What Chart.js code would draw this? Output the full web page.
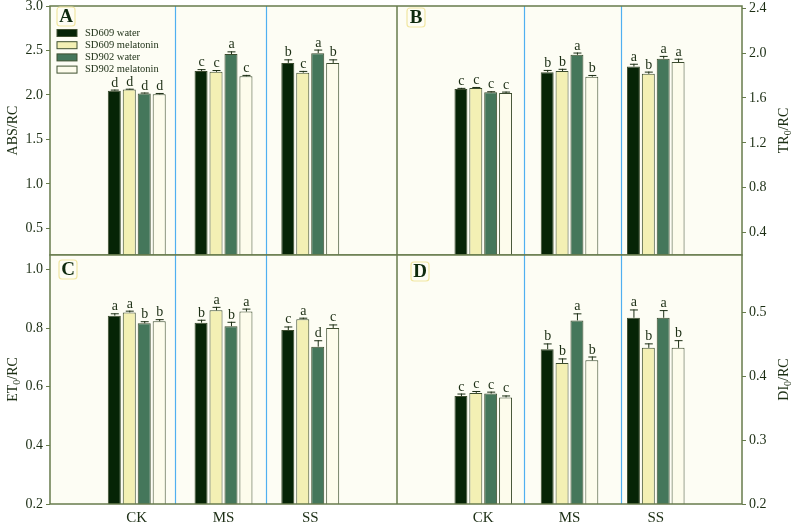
<!DOCTYPE html>
<html lang="en">
<head>
  <meta charset="UTF-8" />
  <title>ABS/RC, TR0/RC, ET0/RC, DI0/RC</title>
  <script src="https://cdn.jsdelivr.net/npm/chart.js"></script>
  <style>
    * { margin: 0; padding: 0; box-sizing: border-box; }
    body { width: 794px; height: 525px; background: #fff; position: relative; overflow: hidden; }
    .panel { position: absolute; }
  </style>
</head>
<body>
  <div class="panel" style="left:0;top:0;width:397px;height:260px"><canvas id="chartA"></canvas></div>
  <div class="panel" style="left:397px;top:0;width:397px;height:260px"><canvas id="chartB"></canvas></div>
  <div class="panel" style="left:0;top:250px;width:397px;height:275px"><canvas id="chartC"></canvas></div>
  <div class="panel" style="left:397px;top:250px;width:397px;height:275px"><canvas id="chartD"></canvas></div>

  <script>
    // categories padded with empty slots so the axis runs from one gap to the other
    const categories = ['', 'CK', 'MS', 'SS', ''];
    const seriesNames = ['SD609 water', 'SD609 melatonin', 'SD902 water', 'SD902 melatonin'];
    const seriesColors = ['#062406', '#f3f0b4', '#45775b', '#fdfcec'];

    // values per series: [CK, MS, SS]
    const absMeans = [[2.048, 2.27, 2.36], [2.06, 2.26, 2.25], [2.015, 2.46, 2.47], [2.007, 2.21, 2.36]];
    const absErrors = [[0.012, 0.02, 0.04], [0.01, 0.02, 0.02], [0.012, 0.03, 0.04], [0.015, 0.015, 0.04]];
    const absLetters = [['d', 'c', 'b'], ['d', 'c', 'c'], ['d', 'a', 'a'], ['d', 'c', 'b']];

    const trMeans = [[1.68, 1.83, 1.88], [1.69, 1.84, 1.815], [1.65, 1.985, 1.95], [1.645, 1.79, 1.92]];
    const trErrors = [[0.01, 0.02, 0.025], [0.008, 0.02, 0.02], [0.01, 0.02, 0.025], [0.012, 0.015, 0.03]];
    const trLetters = [['c', 'b', 'a'], ['c', 'b', 'b'], ['c', 'a', 'a'], ['c', 'b', 'a']];

    const etMeans = [[0.843, 0.819, 0.794], [0.854, 0.861, 0.831], [0.817, 0.807, 0.737], [0.824, 0.857, 0.801]];
    const etErrors = [[0.008, 0.01, 0.012], [0.006, 0.012, 0.005], [0.007, 0.015, 0.022], [0.007, 0.01, 0.012]];
    const etLetters = [['a', 'b', 'c'], ['a', 'a', 'a'], ['b', 'b', 'd'], ['b', 'a', 'c']];

    const diMeans = [[0.369, 0.4425, 0.4917], [0.374, 0.421, 0.4446], [0.373, 0.4876, 0.4917], [0.367, 0.425, 0.4446]];
    const diErrors = [[0.004, 0.009, 0.013], [0.003, 0.007, 0.007], [0.003, 0.011, 0.012], [0.003, 0.006, 0.012]];
    const diLetters = [['c', 'b', 'a'], ['c', 'b', 'b'], ['c', 'a', 'a'], ['c', 'b', 'b']];

    const ticksA = [0.5, 1.0, 1.5, 2.0, 2.5, 3.0];
    const ticksB = [0.4, 0.8, 1.2, 1.6, 2.0, 2.4];
    const ticksC = [0.2, 0.4, 0.6, 0.8, 1.0];
    const ticksD = [0.2, 0.3, 0.4, 0.5];

    // blue separators, in category-index units
    const dividersLeft = [1.445, 2.49];
    const dividersRight = [1.475, 2.595];

    const SERIF = '"Liberation Serif", "DejaVu Serif", serif';
    const OLIVE = '#677b4c';
    const INK = '#1c2e14';

    const panelPlugin = {
      id: 'panelPlugin',
      beforeDatasetsDraw(chart, args, opts) {
        const a = chart.chartArea, ctx = chart.ctx, xs = chart.scales.x;
        ctx.save();
        ctx.fillStyle = '#fdfdf4';
        ctx.fillRect(a.left, a.top, a.right - a.left, a.bottom - a.top);
        ctx.strokeStyle = '#4fb0f0';
        ctx.lineWidth = 1.2;
        opts.dividers.forEach(d => {
          const x = Math.round(xs.getPixelForValue(d)) + 0.5;
          ctx.beginPath();
          ctx.moveTo(x, a.top);
          ctx.lineTo(x, a.bottom);
          ctx.stroke();
        });
        ctx.restore();
      },
      afterDatasetsDraw(chart, args, opts) {
        const a = chart.chartArea, ctx = chart.ctx, ys = chart.scales.y;
        ctx.save();
        // error bars and letters
        chart.data.datasets.forEach((ds, i) => {
          const meta = chart.getDatasetMeta(i);
          meta.data.forEach((bar, j) => {
            const v = ds.data[j];
            if (v === null) return;
            const err = opts.errors[i][j - 1];
            const yTop = ys.getPixelForValue(v + err);
            ctx.strokeStyle = INK;
            ctx.lineWidth = 1;
            ctx.beginPath();
            ctx.moveTo(bar.x + 0.5, bar.y);
            ctx.lineTo(bar.x + 0.5, yTop);
            ctx.moveTo(bar.x - 3.5, yTop + 0.5);
            ctx.lineTo(bar.x + 4.5, yTop + 0.5);
            ctx.stroke();
            ctx.fillStyle = INK;
            ctx.font = '14px ' + SERIF;
            ctx.textAlign = 'center';
            ctx.textBaseline = 'alphabetic';
            ctx.fillText(opts.letters[i][j - 1], bar.x + 0.5, yTop - 3);
          });
        });
        // frame
        ctx.strokeStyle = OLIVE;
        ctx.lineWidth = 1.5;
        ctx.strokeRect(a.left, a.top, a.right - a.left, a.bottom - a.top);
        // panel letter
        const lx = a.left + opts.labelDx, ly = a.top + opts.labelDy;
        ctx.strokeStyle = '#f1e7a2';
        ctx.lineWidth = 1.2;
        ctx.beginPath();
        ctx.roundRect(lx, ly, 18, 19, 3);
        ctx.stroke();
        ctx.fillStyle = '#0e2a0e';
        ctx.font = 'bold 19px ' + SERIF;
        ctx.textAlign = 'center';
        ctx.textBaseline = 'middle';
        ctx.fillText(opts.label, lx + 9, ly + 10.5);
        // axis title with subscript
        ctx.translate(opts.titleX - chart.canvas.offsetParent.offsetLeft, (a.top + a.bottom) / 2);
        ctx.rotate(-Math.PI / 2);
        ctx.fillStyle = INK;
        ctx.textAlign = 'left';
        ctx.textBaseline = 'middle';
        let w = 0;
        opts.title.forEach(p => {
          ctx.font = (p.sub ? '10px ' : '14px ') + SERIF;
          w += ctx.measureText(p.t).width;
        });
        let x = -w / 2;
        opts.title.forEach(p => {
          ctx.font = (p.sub ? '10px ' : '14px ') + SERIF;
          ctx.fillText(p.t, x, p.sub ? 4 : 0);
          x += ctx.measureText(p.t).width;
        });
        ctx.restore();
        // legend in panel A
        if (opts.legend) {
          ctx.save();
          ctx.font = '10.5px ' + SERIF;
          ctx.textBaseline = 'middle';
          ctx.textAlign = 'left';
          seriesNames.forEach((name, i) => {
            const y = a.top + 27 + i * 12.2;
            ctx.fillStyle = seriesColors[i];
            ctx.fillRect(a.left + 7, y - 3.5, 20, 7);
            ctx.strokeStyle = '#3f5030';
            ctx.lineWidth = 1;
            ctx.strokeRect(a.left + 7, y - 3.5, 20, 7);
            ctx.fillStyle = INK;
            ctx.fillText(name, a.left + 35, y);
          });
          ctx.restore();
        }
      }
    };

    function makeChart(id, cfg) {
      const datasets = seriesNames.map((name, i) => ({
        label: name,
        data: [null, ...cfg.means[i], null],
        backgroundColor: seriesColors[i],
        borderColor: '#3c4c2e',
        borderWidth: 1,
        borderSkipped: 'bottom',
        categoryPercentage: 0.69,
        barPercentage: 0.87
      }));
      return new Chart(document.getElementById(id), {
        type: 'bar',
        data: { labels: categories, datasets },
        options: {
          responsive: true,
          maintainAspectRatio: false,
          animation: false,
          layout: { padding: { top: cfg.padTop, left: 0, right: 0, bottom: 0 } },
          plugins: {
            legend: { display: false },
            tooltip: { enabled: false },
            panelPlugin: {
              dividers: cfg.dividers,
              errors: cfg.errors,
              letters: cfg.letters,
              label: cfg.label,
              labelDx: cfg.labelDx,
              labelDy: cfg.labelDy,
              title: cfg.title,
              titleX: cfg.titleX,
              legend: !!cfg.legend
            }
          },
          scales: {
            x: {
              type: 'category',
              offset: false,
              grid: { display: false, drawTicks: false },
              border: { display: false },
              ticks: {
                display: cfg.showX,
                autoSkip: false,
                maxRotation: 0,
                padding: 5,
                color: INK,
                font: { family: SERIF, size: 15 }
              },
              afterFit(scale) {
                scale.height = cfg.xHeight;
                scale.paddingLeft = 0;
                scale.paddingRight = 0;
              }
            },
            y: {
              position: cfg.yPos,
              min: cfg.yMin,
              max: cfg.yMax,
              grid: { display: true, drawOnChartArea: false, drawTicks: true, tickLength: 4, color: OLIVE },
              border: { display: false },
              ticks: {
                padding: 3,
                color: INK,
                font: { family: SERIF, size: 14 },
                callback: v => Number(v).toFixed(1)
              },
              afterBuildTicks(scale) { scale.ticks = cfg.ticks.map(v => ({ value: v })); },
              afterFit(scale) {
                scale.width = cfg.yWidth;
                scale.paddingTop = 0;
                scale.paddingBottom = 0;
              }
            }
          }
        },
        plugins: [panelPlugin]
      });
    }

    makeChart('chartA', {
      means: absMeans, errors: absErrors, letters: absLetters, ticks: ticksA,
      yMin: 0.2, yMax: 3.0, yPos: 'left', yWidth: 50, padTop: 6, xHeight: 5, showX: false,
      dividers: dividersLeft, label: 'A', labelDx: 7, labelDy: 1,
      title: [{ t: 'ABS/RC' }], titleX: 13, legend: true
    });
    makeChart('chartB', {
      means: trMeans, errors: trErrors, letters: trLetters, ticks: ticksB,
      yMin: 0.2, yMax: 2.42, yPos: 'right', yWidth: 52, padTop: 6, xHeight: 5, showX: false,
      dividers: dividersRight, label: 'B', labelDx: 10, labelDy: 2,
      title: [{ t: 'TR' }, { t: '0', sub: true }, { t: '/RC' }], titleX: 784
    });
    makeChart('chartC', {
      means: etMeans, errors: etErrors, letters: etLetters, ticks: ticksC,
      yMin: 0.2, yMax: 1.05, yPos: 'left', yWidth: 50, padTop: 5, xHeight: 21, showX: true,
      dividers: dividersLeft, label: 'C', labelDx: 9, labelDy: 5,
      title: [{ t: 'ET' }, { t: '0', sub: true }, { t: '/RC' }], titleX: 13
    });
    makeChart('chartD', {
      means: diMeans, errors: diErrors, letters: diLetters, ticks: ticksD,
      yMin: 0.2, yMax: 0.59, yPos: 'right', yWidth: 52, padTop: 5, xHeight: 21, showX: true,
      dividers: dividersRight, label: 'D', labelDx: 14, labelDy: 7,
      title: [{ t: 'DI' }, { t: '0', sub: true }, { t: '/RC' }], titleX: 784
    });
  </script>
</body>
</html>
